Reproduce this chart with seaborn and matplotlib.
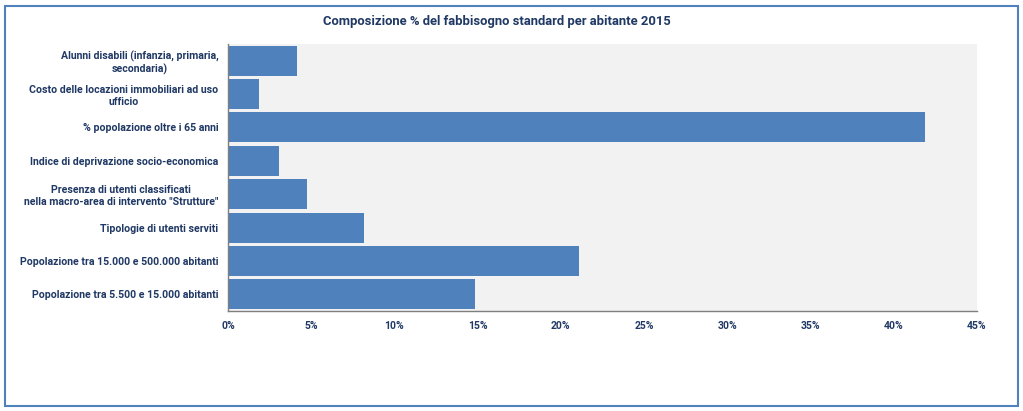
import matplotlib
matplotlib.use("Agg")
import matplotlib.pyplot as plt
import seaborn as sns
import pandas as pd
from matplotlib.patches import Rectangle
from matplotlib.ticker import FuncFormatter

categories = [
    "Alunni disabili (infanzia, primaria,\nsecondaria)",
    "Costo delle locazioni immobiliari ad uso\nufficio",
    "% popolazione oltre i 65 anni",
    "Indice di deprivazione socio-economica",
    "Presenza di utenti classificati\nnella macro-area di intervento \"Strutture\"",
    "Tipologie di utenti serviti",
    "Popolazione tra 15.000 e 500.000 abitanti",
    "Popolazione tra 5.500 e 15.000 abitanti",
]
values = [4.15, 1.86, 41.9, 3.06, 4.75, 8.17, 21.1, 14.85]
title = "Composizione % del fabbisogno standard per abitante 2015"

df = pd.DataFrame({"cat": categories, "val": values})

sns.set_theme(style="white")
plt.rcParams["font.family"] = ["Roboto", "DejaVu Sans"]

navy = "#1F3864"
fig = plt.figure(figsize=(10.23, 4.11), dpi=100)
ax = fig.add_axes([228 / 1023, 1 - 311 / 411, (977 - 228) / 1023, (311 - 44) / 411])

sns.barplot(data=df, x="val", y="cat", orient="h", color="#4F81BD",
            saturation=1, width=0.9, linewidth=0, ax=ax)
ax.set_facecolor("#F2F2F2")
ax.set_xlim(0, 45)
ax.set_xticks(range(0, 46, 5))
ax.xaxis.set_major_formatter(FuncFormatter(lambda v, p: f"{int(v)}%"))
ax.set_xlabel("")
ax.set_ylabel("")
for s in ["top", "right"]:
    ax.spines[s].set_visible(False)
for s in ["left", "bottom"]:
    ax.spines[s].set_color("#7F7F7F")
    ax.spines[s].set_linewidth(1)
ax.tick_params(axis="x", colors=navy, labelsize=7.5, length=0, pad=7)
ax.tick_params(axis="y", colors=navy, labelsize=7.6, length=0, pad=7)
for lab in ax.get_xticklabels() + ax.get_yticklabels():
    lab.set_fontweight("bold")
    lab.set_color(navy)
for lab in ax.get_yticklabels():
    lab.set_multialignment("center")
    lab.set_linespacing(1.2)

fig.text(497 / 1023, 1 - 22 / 411, title, ha="center", va="center",
         fontsize=9.4, fontweight="bold", color=navy)

fig.patches.append(Rectangle((5 / 1023, 5 / 411), 1013 / 1023, 400 / 411,
                             transform=fig.transFigure, fill=False,
                             edgecolor="#4F81BD", linewidth=1.5))

fig.savefig("out.png", dpi=100)
